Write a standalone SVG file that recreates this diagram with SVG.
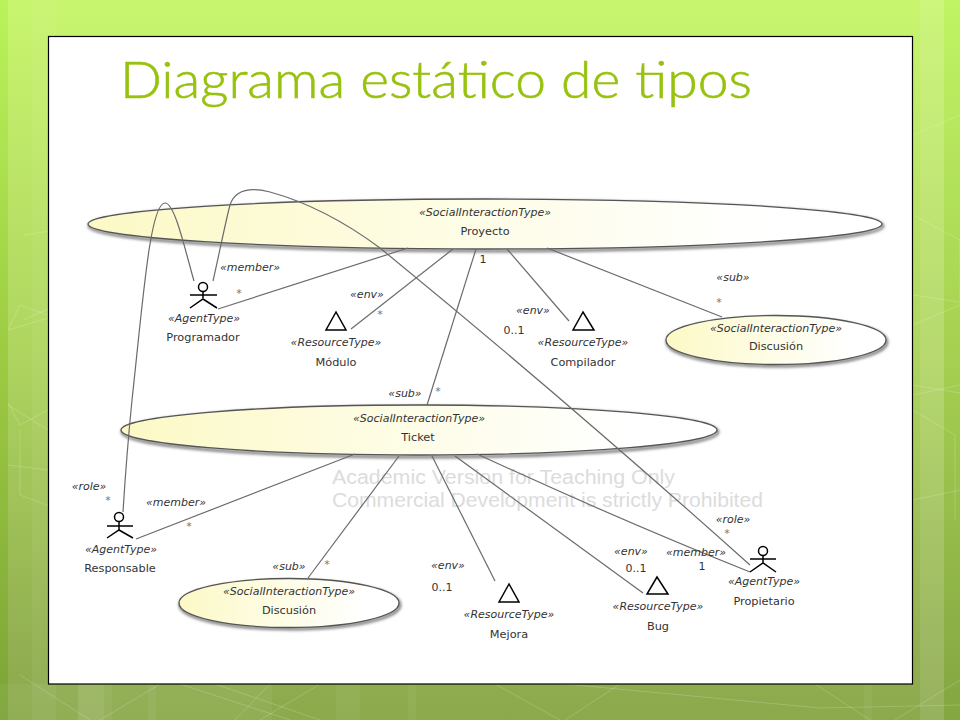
<svg xmlns="http://www.w3.org/2000/svg" width="960" height="720" viewBox="0 0 960 720">
<defs>
<linearGradient id="bg" x1="0" y1="0" x2="0" y2="1"><stop offset="0" stop-color="#c8f56e"/><stop offset="0.5" stop-color="#aed45f"/><stop offset="0.93" stop-color="#90ad50"/><stop offset="1" stop-color="#8caa4c"/></linearGradient>
<linearGradient id="edge" x1="0" y1="0" x2="0" y2="1"><stop offset="0" stop-color="#b9f35a"/><stop offset="0.5" stop-color="#9ccb42"/><stop offset="1" stop-color="#7ca337"/></linearGradient>
<linearGradient id="fill" x1="0" y1="0" x2="1" y2="0"><stop offset="0" stop-color="#fcf9c6"/><stop offset="0.85" stop-color="#ffffff"/></linearGradient>
<filter id="sh" x="-5%" y="-20%" width="110%" height="150%"><feGaussianBlur stdDeviation="1.5"/></filter>
</defs>
<style>
.bar{fill:#fff;opacity:.1}
.soft{fill:#fff;opacity:.05}
.web{fill:none;stroke:#fff;stroke-width:1;opacity:.18}
.el{fill:url(#fill);stroke:#555;stroke-width:1.3}
.shd{fill:none;stroke:#666;stroke-width:2.5;filter:url(#sh)}
.con{fill:none;stroke:#6b6b6b;stroke-width:1.2}
.ico{fill:none;stroke:#000;stroke-width:1.5}
text{font-family:"DejaVu Sans","Liberation Sans",sans-serif;fill:#333;text-anchor:middle}
.st{font-size:11px;font-style:italic}
.nm{font-size:11.3px}
.lb{font-size:11px;font-style:italic}
.mu{font-size:11px}
.ast{font-size:11px;fill:#777}
.wm{font-family:"Liberation Sans",Arial,sans-serif;font-size:20px;fill:#dcdcdc;text-anchor:start}
</style>
<g id="background">
<rect width="960" height="720" fill="url(#bg)"/>
<rect width="8" height="720" fill="url(#edge)"/>
<rect x="32" width="24" height="720" class="soft"/>
<rect x="944" width="16" height="720" fill="url(#edge)" opacity=".5"/>
<rect x="920" width="24" height="720" class="bar"/>
<rect x="0" y="684" width="272" height="36" class="soft"/>
<rect x="78" y="684" width="26" height="36" class="bar"/><rect x="104" y="684" width="8" height="36" class="soft"/>
<rect x="148" y="684" width="8" height="36" class="soft"/>
<rect x="336" y="684" width="24" height="36" class="soft"/><rect x="408" y="684" width="8" height="36" class="soft"/>
<rect x="864" y="684" width="8" height="36" class="soft"/>
<path class="web" d="M20 675L90 720M100 720L160 684M180 684L290 720M235 720L270 684M260 720L320 684M215 684L320 720M495 684L560 720M565 720L620 684M565 684L820 708L960 705M815 684L870 720M895 720L960 680"/>
<path class="web" d="M24 235L56 230V305L24 320M8 330L20 305L48 315M8 330L48 318M8 403L20 425L48 410M8 465L48 470M20 430V495L60 510M8 405L48 430"/>
<path class="web" d="M913 135L960 115M913 215L960 240V300M913 295L960 302M913 325L960 305M913 385L960 393M913 395L960 385M913 410L955 435V520M913 500L960 490"/>
</g>
<g id="slide">
<rect x="48.500" y="36.500" width="864" height="647.500" fill="#fff" stroke="#000" stroke-width="1.200"/>
<text id="title" x="120" y="98" style="font-family:Lato,'Noto Sans',sans-serif;font-weight:300;font-size:51px;fill:#97c20e;stroke:#97c20e;stroke-width:.6;text-anchor:start" textLength="632" lengthAdjust="spacingAndGlyphs">Diagrama estático de tipos</text>
</g>
<g id="watermark">
<text class="wm" x="332" y="484" textLength="343" lengthAdjust="spacingAndGlyphs">Academic Version for Teaching Only</text>
<text class="wm" x="332" y="507" textLength="431" lengthAdjust="spacingAndGlyphs">Commercial Development is strictly Prohibited</text>
</g>
<g id="node-proyecto">
<ellipse class="shd" cx="486" cy="226" rx="397" ry="25"/>
<ellipse class="el" cx="485" cy="224" rx="397" ry="25"/>
<text class="st" x="485" y="216">«SocialInteractionType»</text><text class="nm" x="485" y="235">Proyecto</text>
</g>
<g id="node-ticket">
<ellipse class="shd" cx="420" cy="432" rx="298" ry="25"/>
<ellipse class="el" cx="419" cy="430" rx="298" ry="25"/>
<text class="st" x="419" y="422">«SocialInteractionType»</text><text class="nm" x="418" y="441">Ticket</text>
</g>
<g id="node-discusion-1">
<ellipse class="shd" cx="777" cy="342" rx="110" ry="24"/>
<ellipse class="el" cx="776" cy="340" rx="110" ry="24.500"/>
<text class="st" x="776" y="332">«SocialInteractionType»</text><text class="nm" x="776" y="350">Discusión</text>
</g>
<g id="node-discusion-2">
<ellipse class="shd" cx="290" cy="605" rx="110" ry="24"/>
<ellipse class="el" cx="289" cy="603" rx="110" ry="24.500"/>
<text class="st" x="289" y="595">«SocialInteractionType»</text><text class="nm" x="289" y="614">Discusión</text>
</g>
<g id="connectors">
<path class="con" d="M194 281C185 250 175 203 165 203C150 203 143 300 132 400C128 440 125 480 123 512"/>
<path class="con" d="M213 281C220 250 226 220 230 205C235 190 250 187 270 192C310 203 345 222 380 248Q560 395 750 565"/>
<path class="con" d="M218 309L408 248"/>
<path class="con" d="M351 329L453 249"/>
<path class="con" d="M476 249L427 405"/>
<path class="con" d="M507 249L569 321"/>
<path class="con" d="M547 248L722 317"/>
<path class="con" d="M136 539L355 454"/>
<path class="con" d="M308 578L399 456"/>
<path class="con" d="M432 456L495 581"/>
<path class="con" d="M455 456L643 593"/>
<path class="con" d="M477 454Q620 520 750 572"/>
</g>
<g id="node-programador">
<circle class="ico" cx="203" cy="287" r="4.500"/><path class="ico" d="M203 291.500V298M190 295H217M190 308L203 299L217 308"/>
<text class="st" x="204" y="322">«AgentType»</text><text class="nm" x="203" y="341">Programador</text>
</g>
<g id="node-responsable">
<circle class="ico" cx="119" cy="517" r="4.500"/><path class="ico" d="M119 521.500V530M107 526H133M107 538L119 530L133 538"/>
<text class="st" x="121" y="553">«AgentType»</text><text class="nm" x="120" y="572">Responsable</text>
</g>
<g id="node-propietario">
<circle class="ico" cx="763" cy="551" r="4.500"/><path class="ico" d="M763 555.500V563M750 559H776M750 572L763 563L776 572"/>
<text class="st" x="764" y="585">«AgentType»</text><text class="nm" x="764" y="605">Propietario</text>
</g>
<g id="node-modulo">
<path class="ico" d="M336 312L326 330H346Z"/>
<text class="st" x="336" y="346">«ResourceType»</text><text class="nm" x="336" y="366">Módulo</text>
</g>
<g id="node-compilador">
<path class="ico" d="M583 312L573 330H594Z"/>
<text class="st" x="583" y="346">«ResourceType»</text><text class="nm" x="583" y="366">Compilador</text>
</g>
<g id="node-mejora">
<path class="ico" d="M509 584L499 602H519Z"/>
<text class="st" x="509" y="618">«ResourceType»</text><text class="nm" x="509" y="638">Mejora</text>
</g>
<g id="node-bug">
<path class="ico" d="M657 577L647 594H668Z"/>
<text class="st" x="658" y="610">«ResourceType»</text><text class="nm" x="658" y="630">Bug</text>
</g>
<g id="labels">
<text class="lb" x="250" y="271">«member»</text><text class="ast" x="239" y="297">*</text>
<text class="lb" x="367" y="298">«env»</text><text class="ast" x="380" y="318">*</text>
<text class="lb" x="405" y="397">«sub»</text><text class="ast" x="438" y="395">*</text>
<text class="mu" x="483" y="263">1</text>
<text class="lb" x="533" y="314">«env»</text><text class="mu" x="514" y="334">0..1</text>
<text class="lb" x="733" y="281">«sub»</text><text class="ast" x="719" y="306">*</text>
<text class="lb" x="89" y="490">«role»</text><text class="ast" x="108" y="504">*</text>
<text class="lb" x="176" y="506">«member»</text><text class="ast" x="189" y="530">*</text>
<text class="lb" x="289" y="570">«sub»</text><text class="ast" x="327" y="568">*</text>
<text class="lb" x="448" y="569">«env»</text><text class="mu" x="442" y="591">0..1</text>
<text class="lb" x="631" y="555">«env»</text><text class="mu" x="636" y="572">0..1</text>
<text class="lb" x="696" y="556">«member»</text><text class="mu" x="702" y="570">1</text>
<text class="lb" x="733" y="523">«role»</text><text class="ast" x="727" y="537">*</text>
</g>
</svg>
